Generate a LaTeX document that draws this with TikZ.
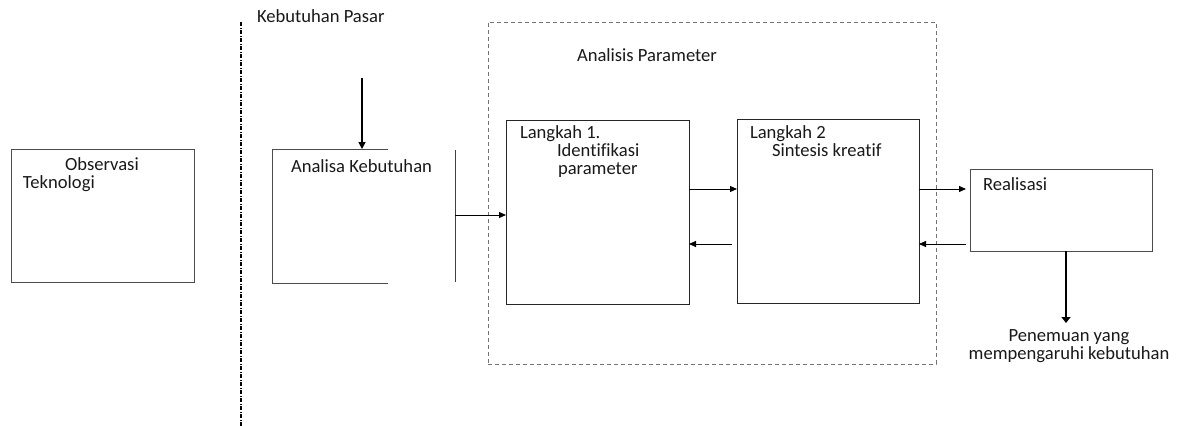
\documentclass[tikz,border=0pt]{standalone}
\usepackage{fontspec}
\setmainfont[Ligatures=NoCommon]{Carlito}
\usetikzlibrary{arrows.meta,calc}

\begin{document}
\begin{tikzpicture}[x=1pt,y=-1pt,
  every node/.style={font=\fontsize{18.6}{18}\selectfont, inner sep=0pt, outer sep=0pt},
  box/.style={draw=black!70, line width=0.9pt, anchor=north west},
  stepbox/.style={draw=black!85, line width=1pt, anchor=north west},
  label/.style={anchor=base west, text=black!90},
  arr/.style={line width=0.9pt, -{Triangle[length=7pt,width=6pt]}},
  heavyarr/.style={line width=1.5pt, -{Triangle[length=7pt,width=7pt]}},
  boldarr/.style={line width=2.6pt, -{Triangle[length=6pt,width=9pt]}}
]
\useasboundingbox (0,0) rectangle (1179,426);

% technology observation box
\node[box, minimum width=183pt, minimum height=133pt] (obs) at (11,149) {};
\node[label] (obs1) at (65,170) {Observasi};
\node[label] (obs2) at (23,188) {Teknologi};

% divider between technology and market side
\coordinate (divtop) at (241,22);
\coordinate (divbot) at (241,426);
\draw[line width=1.8pt, dash pattern=on 4pt off 1.5pt on 1pt off 1.5pt] (divtop) -- (divbot);

% market need
\node[label] (pasar) at (257,22) {Kebutuhan Pasar};
\coordinate (kp) at (362,78);

% need analysis (open on the right)
\node[anchor=north west, minimum width=116pt, minimum height=134pt] (ana) at (272,149) {};
\draw[black!70, line width=0.9pt] (ana.north east) -- (ana.north west) -- (ana.south west) -- (ana.south east);
\node[label] (ana1) at (291,172) {Analisa Kebutuhan};
\draw[heavyarr] (kp) -- (kp |- ana.north);

% collecting bar
\coordinate (bartop) at (455,150);
\coordinate (barbot) at (455,282);
\coordinate (barmid) at (455,215);
\draw[black!75, line width=0.9pt] (bartop) -- (barbot);

% parameter analysis frame
\node[anchor=north west, draw=black!55, line width=0.8pt, dash pattern=on 4pt off 3pt,
      minimum width=448pt, minimum height=342pt] (frame) at (488,22) {};
\node[label] (frame1) at (577,61) {Analisis Parameter};

% step 1
\node[stepbox, minimum width=183pt, minimum height=184pt] (l1) at (506,120) {};
\node[label] (l1a) at (520,138) {Langkah 1.};
\node[label] (l1b) at (557,156) {Identifikasi};
\node[label] (l1c) at (558,174) {parameter};

% step 2
\node[stepbox, minimum width=182pt, minimum height=184pt] (l2) at (737,119) {};
\node[label] (l2a) at (750,138) {Langkah 2};
\node[label] (l2b) at (772,156) {Sintesis kreatif};

% realisation
\node[box, minimum width=182pt, minimum height=82pt] (real) at (970,169) {};
\node[label] (real1) at (983,190) {Realisasi};

% outcome
\node[anchor=north, align=center, text=black!90] (hasil) at (1069,330) {Penemuan yang\\mempengaruhi kebutuhan};
\coordinate (dn) at (1066,323);

% flows
\coordinate (upper) at (0,189);
\coordinate (lower) at (0,244);
\draw[arr] (barmid) -- (barmid -| l1.west);
\draw[arr] (l1.east |- upper) -- (l2.west |- upper);
\draw[arr] ($(l2.west |- lower)+(-5,0)$) -- (l1.east |- lower);
\draw[arr] (l2.east |- upper) -- ($(real.west |- upper)+(-4,0)$);
\draw[arr] ($(real.west |- lower)+(-4,0)$) -- (l2.east |- lower);
\draw[boldarr] (real.south -| dn) -- (dn);
\end{tikzpicture}
\end{document}
